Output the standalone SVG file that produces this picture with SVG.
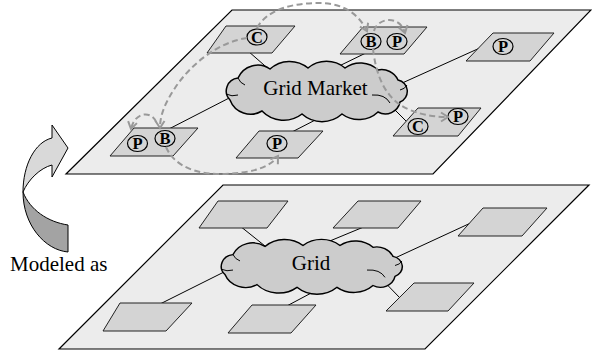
<svg xmlns="http://www.w3.org/2000/svg" width="592" height="354" viewBox="0 0 592 354">
<style>
.plane{fill:#ececec;stroke:#000;stroke-width:1.2}
.sq{fill:#d4d4d4;stroke:#222;stroke-width:1}
.cloud{fill:#cccccc;stroke:#000;stroke-width:1.5}
.curl{fill:none;stroke:#000;stroke-width:1}
.link{stroke:#000;stroke-width:1;fill:none}
.flow{fill:none;stroke:#999;stroke-width:2;stroke-dasharray:6 3.5}
.ring{fill:none;stroke:#000;stroke-width:1.2}
.lt{font-family:'Liberation Serif',serif;font-weight:bold;font-size:16.5px;text-anchor:middle}
.lbl{font-family:'Liberation Serif',serif;font-size:21px}
</style>
<defs>
<marker id="ah" markerUnits="userSpaceOnUse" markerWidth="12" markerHeight="12" refX="8" refY="5" orient="auto" overflow="visible">
<path d="M1,0.5 L8,5 L1,9.5" fill="none" stroke="#999" stroke-width="2"/>
</marker>
<g id="cloudShape">
<path class="cloud" d="M230,100 A13,13 0 0 1 238,78 A21.5,21.5 0 0 1 270,69 A29,29 0 0 1 308,68 A29,29 0 0 1 345,68 A26,26 0 0 1 378,70 A18,18 0 0 1 398,80 A11.5,11.5 0 0 1 400,102 A15,15 0 0 1 378,112 A28,28 0 0 1 342,114 A30,30 0 0 1 302,114 A30,30 0 0 1 262,111 A22,22 0 0 1 230,100 Z"/>
<path class="curl" d="M372,95 Q385,94 390,103"/>
<path class="curl" d="M400,90 Q405,89 407,85"/>
<path class="curl" d="M226,94 Q232,97 238,95"/>
<path class="curl" d="M238,78 Q240,83 245,85"/>
</g>
</defs>

<polygon class="plane" points="232,10 591,10 433,174 66,174"/>
<polygon class="plane" points="223,185 589,185 425,349 59,349"/>

<g id="modeled-arrow">
<path d="M52,138 C35,142 23,165 23,192 C28,180 40,168 52,165 L52,177 L68,148 L52,125 Z" fill="#d9d9d9" stroke="#000" stroke-width="1"/>
<path d="M23,192 C23,225 45,250 68,252 L68,225 C48,222 30,210 23,192 Z" fill="#a3a3a3" stroke="#000" stroke-width="1"/>
</g>
<text class="lbl" x="10" y="271" font-family="'Liberation Serif', serif" font-size="21">Modeled as</text>

<g id="connectors">
<line class="link" x1="248" y1="51" x2="280" y2="79"/>
<line class="link" x1="372" y1="50" x2="335" y2="68"/>
<line class="link" x1="482" y1="47" x2="400" y2="84"/>
<line class="link" x1="380" y1="95" x2="410" y2="125"/>
<line class="link" x1="290" y1="133" x2="325" y2="115"/>
<line class="link" x1="165" y1="131" x2="235" y2="95"/>
<line class="link" x1="240" y1="226" x2="270" y2="250"/>
<line class="link" x1="366" y1="226" x2="325" y2="243"/>
<line class="link" x1="475" y1="221" x2="395" y2="258"/>
<line class="link" x1="370" y1="267" x2="400" y2="298"/>
<line class="link" x1="158" y1="305" x2="230" y2="269"/>
<line class="link" x1="283" y1="308" x2="315" y2="291"/>
</g>

<g id="grid-market">
<use href="#cloudShape"/>
<text class="lbl" x="315.5" y="95" text-anchor="middle" font-family="'Liberation Serif', serif" font-size="20.5">Grid Market</text>
</g>
<g id="grid">
<use href="#cloudShape" transform="translate(-5,183.6) scale(1,0.91)"/>
<text class="lbl" x="311" y="270" text-anchor="middle" font-family="'Liberation Serif', serif" font-size="21">Grid</text>
</g>

<g id="t-c">
<polygon class="sq" points="226,26 295,26 272,53 207,53"/>
<ellipse class="ring" cx="257" cy="37" rx="10" ry="8"/><text class="lt" x="257" y="42.5">C</text>
</g>
<g id="t-bp">
<polygon class="sq" points="363,27 427,27 404,54 340,54"/>
<ellipse class="ring" cx="371" cy="41.5" rx="10" ry="8"/><text class="lt" x="371" y="47">B</text>
<ellipse class="ring" cx="397" cy="41.5" rx="10" ry="8"/><text class="lt" x="397" y="47">P</text>
</g>
<g id="t-p-right">
<polygon class="sq" points="493,33 554,33 530,61 466,61"/>
<ellipse class="ring" cx="503" cy="46.5" rx="10" ry="8"/><text class="lt" x="503" y="52">P</text>
</g>
<g id="t-cp">
<polygon class="sq" points="418,108 481,108 458,136 393,136"/>
<ellipse class="ring" cx="418" cy="126.5" rx="10" ry="8"/><text class="lt" x="418" y="132">C</text>
<ellipse class="ring" cx="458" cy="116.5" rx="10" ry="8"/><text class="lt" x="458" y="122">P</text>
</g>
<g id="t-p-center">
<polygon class="sq" points="259,131 323,131 298,158 236,158"/>
<ellipse class="ring" cx="277" cy="143.5" rx="10" ry="8"/><text class="lt" x="277" y="149">P</text>
</g>
<g id="t-pb">
<polygon class="sq" points="134,128 198,128 173,156 110,156"/>
<ellipse class="ring" cx="137.5" cy="143.5" rx="10" ry="8"/><text class="lt" x="137.5" y="149">P</text>
<ellipse class="ring" cx="165" cy="138.5" rx="10" ry="8"/><text class="lt" x="165" y="144">B</text>
</g>

<g id="b1"><polygon class="sq" points="218,201 288,201 267,228 199,228"/></g>
<g id="b2"><polygon class="sq" points="358,201 421,201 398,228 333,228"/></g>
<g id="b3"><polygon class="sq" points="483,208 547,208 522,236 458,236"/></g>
<g id="b4"><polygon class="sq" points="414,283 474,283 448,311 386,311"/></g>
<g id="b5"><polygon class="sq" points="120,303 192,303 166,331 103,331"/></g>
<g id="b6"><polygon class="sq" points="252,305 316,305 291,333 228,333"/></g>

<g id="flows">
<path class="flow" marker-end="url(#ah)" d="M247,38 C218,42 190,65 175,88 C165,103 160,115 160,128"/>
<path class="flow" marker-end="url(#ah)" d="M156,122 C152,111 135,111 131,129"/>
<path class="flow" marker-end="url(#ah)" d="M166,147 C175,168 200,175 225,174 C250,173 270,168 278,156"/>
<path class="flow" marker-end="url(#ah)" d="M257,28 C268,8 295,3 320,3 C340,3 358,12 367,31"/>
<path class="flow" marker-end="url(#ah)" d="M374,31 C378,17 400,15 405,33"/>
<path class="flow" marker-end="url(#ah)" d="M373,49 C376,75 385,100 410,110 C425,116 438,117 448,117"/>
</g>
</svg>
